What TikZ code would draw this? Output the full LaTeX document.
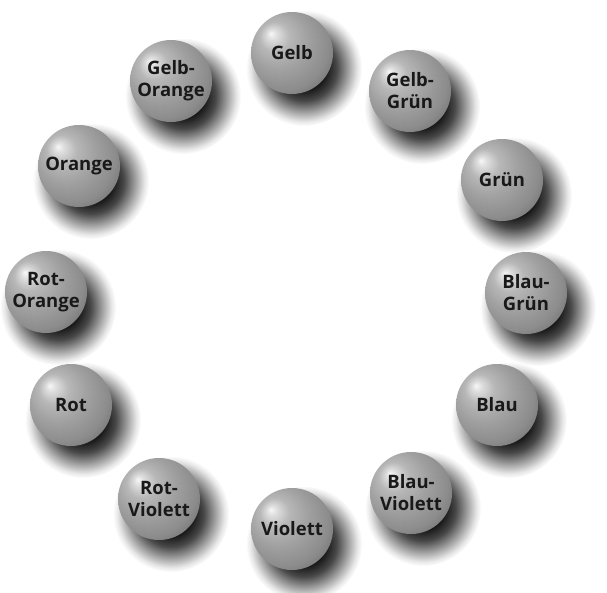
\documentclass[tikz,border=0pt]{standalone}
\usepackage{fontspec}
\setmainfont{Open Sans}
\usetikzlibrary{fadings}
\pgfdeclareradialshading{sphereshade}{\pgfpoint{-13bp}{12bp}}{%
 color(0bp)=(white!97!black);
 color(3bp)=(white!87!black);
 color(9bp)=(white!72!black);
 color(18bp)=(white!63!black);
 color(28bp)=(white!55!black);
 color(36bp)=(white!43!black);
 color(50bp)=(white!37!black)}
\pgfdeclareradialshading{shadowshade}{\pgfpointorigin}{%
 color(0bp)=(white); color(9bp)=(white); color(14bp)=(white!78!black); color(19bp)=(white!40!black); color(23bp)=(white!10!black); color(25bp)=(black); color(50bp)=(black)}
\pgfdeclarefading{softshadow}{\pgfuseshading{shadowshade}}
\tikzset{
  sphere/.style={circle, minimum size=82pt, inner sep=0pt, shade, shading=sphereshade,
    font=\bfseries\fontsize{18.5}{22}\selectfont, align=center, text=black!90},
  shadowblob/.style={fill=black, fill opacity=0.92, path fading=softshadow}
}
\begin{document}
\begin{tikzpicture}[x=1pt,y=-1pt]
\useasboundingbox (0,0) rectangle (607,592);
\fill[white] (0,0) rectangle (607,592);
% centres
\coordinate (cGelb) at (292,53);
\coordinate (cGelbGruen) at (410,91);
\coordinate (cGruen) at (502,180);
\coordinate (cBlauGruen) at (526,293);
\coordinate (cBlau) at (497,405);
\coordinate (cBlauViolett) at (411,493);
\coordinate (cViolett) at (292,529);
\coordinate (cRotViolett) at (159,499);
\coordinate (cRot) at (71,405);
\coordinate (cRotOrange) at (46,292);
\coordinate (cOrange) at (79,166);
\coordinate (cGelbOrange) at (171,81);
% shadows
\foreach \c in {cGelb,cGelbGruen,cGruen,cBlauGruen,cBlau,cBlauViolett,cViolett,cRotViolett,cRot,cRotOrange,cOrange,cGelbOrange}{
  \fill[shadowblob] ([shift={(12,15)}]\c) circle (58);
}
% spheres
\node[sphere] (gelb) at (cGelb) {Gelb};
\node[sphere] (gelbgruen) at (cGelbGruen) {Gelb-\\Grün};
\node[sphere] (gruen) at (cGruen) {Grün};
\node[sphere] (blaugruen) at (cBlauGruen) {Blau-\\Grün};
\node[sphere] (blau) at (cBlau) {Blau};
\node[sphere] (blauviolett) at (cBlauViolett) {Blau-\\Violett};
\node[sphere] (violett) at (cViolett) {Violett};
\node[sphere] (rotviolett) at (cRotViolett) {Rot-\\Violett};
\node[sphere] (rot) at (cRot) {Rot};
\node[sphere] (rotorange) at (cRotOrange) {Rot-\\Orange};
\node[sphere] (orange) at (cOrange) {Orange};
\node[sphere] (gelborange) at (cGelbOrange) {Gelb-\\Orange};
\end{tikzpicture}
\end{document}
